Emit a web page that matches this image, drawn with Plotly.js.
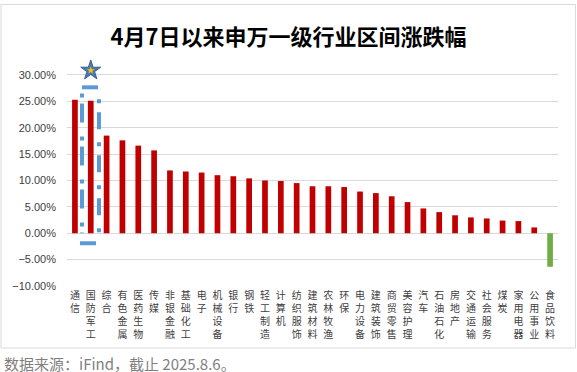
<!DOCTYPE html>
<html><head><meta charset="utf-8">
<script src="https://cdn.plot.ly/plotly-3.0.1.min.js"></script>
<style>html,body{margin:0;padding:0;background:#fff;}#chart{width:577px;height:372px;}</style>
</head><body><div id="chart"></div>
<script>
const categories = ["通信","国防军工","综合","有色金属","医药生物","传媒","非银金融","基础化工","电子","机械设备","银行","钢铁","轻工制造","计算机","纺织服饰","建筑材料","农林牧渔","环保","电力设备","建筑装饰","商贸零售","美容护理","汽车","石油石化","房地产","交通运输","社会服务","煤炭","家用电器","公用事业","食品饮料"];
const changePct = [25.3,25.1,18.5,17.6,16.6,15.7,11.9,11.7,11.5,11.0,10.8,10.4,10.0,9.9,9.5,8.9,8.9,8.75,7.9,7.6,7.0,5.9,4.7,4.0,3.4,3.0,2.8,2.4,2.3,1.1,-6.35];
const yTicks = [-10,-5,0,5,10,15,20,25,30];
const highlight = "国防军工";

const W = 577, H = 372, L = 67, R = 19, T = 67, B = 86;
const pw = W - L - R, ph = H - T - B;
const px = v => (v - L) / pw;
const py = v => (H - B - v) / ph;

const hiIdx = categories.indexOf(highlight);

const bars = {
  type: 'bar',
  x: categories,
  y: changePct.map(v => v / 100),
  marker: {color: changePct.map(v => v >= 0 ? '#C00000' : '#70AD47')},
  hoverinfo: 'x+y'
};
const starOuter = {
  type: 'scatter', mode: 'markers', x: [highlight], y: [0.3085], cliponaxis: false,
  marker: {symbol: 'star', size: 15, color: '#4A78B0', line: {color: '#35629a', width: 1}},
  hoverinfo: 'skip'
};
const starInner = {
  type: 'scatter', mode: 'markers', x: [highlight], y: [0.3085], cliponaxis: false,
  marker: {symbol: 'star', size: 6, color: '#FFC000', line: {width: 0}},
  hoverinfo: 'skip'
};

const blue = '#5B9BD5';
const shapes = [
  {type: 'rect', xref: 'paper', yref: 'paper', x0: px(1), x1: px(575.5), y0: py(348), y1: py(4.5),
   line: {color: '#D9D9D9', width: 1}, fillcolor: 'rgba(0,0,0,0)', layer: 'below'},
  {type: 'line', xref: 'x', yref: 'y', x0: hiIdx - 0.55, x1: hiIdx + 0.46, y0: 0.2765, y1: 0.2765,
   line: {color: blue, width: 4}},
  {type: 'line', xref: 'x', yref: 'y', x0: hiIdx - 0.68, x1: hiIdx + 0.33, y0: -0.019, y1: -0.019,
   line: {color: blue, width: 4}},
  {type: 'line', xref: 'x', yref: 'y', x0: hiIdx - 0.553, x1: hiIdx - 0.553, y0: 0.265, y1: 0.0,
   line: {color: blue, width: 4, dash: '4px,6px,19px,14px'}},
  {type: 'line', xref: 'x', yref: 'y', x0: hiIdx + 0.52, x1: hiIdx + 0.52, y0: 0.254, y1: 0.0,
   line: {color: blue, width: 4, dash: '4px,9px,17px,13px'}}
];

const layout = {
  width: W, height: H,
  margin: {l: L, r: R, t: T, b: B, pad: 0},
  paper_bgcolor: '#fff', plot_bgcolor: '#fff',
  font: {family: 'Liberation Sans, "Noto Sans CJK SC", sans-serif', color: '#404040'},
  showlegend: false,
  bargap: 0.64,
  title: {text: '4月7日以来申万一级行业区间涨跌幅', font: {family: '"Noto Sans CJK SC", sans-serif', size: 22, color: '#000', weight: 'bold'},
          xref: 'container', yref: 'container', x: 0.5, xanchor: 'center', y: 1 - 37 / H, yanchor: 'middle'},
  xaxis: {
    type: 'category', range: [-0.5, categories.length - 0.5], autorange: false,
    tickvals: categories, ticktext: categories.map(c => c.split('').join('<br>')),
    tickangle: 0, showgrid: false, showline: false, ticks: '', zeroline: false,
    tickfont: {family: '"Noto Sans CJK SC", sans-serif', size: 10, color: '#404040'},
    ticklabelstandoff: 2, fixedrange: true
  },
  yaxis: {
    range: [-0.10, 0.315], autorange: false, tickvals: yTicks.map(v => v / 100), tickformat: '.2%',
    showgrid: true, gridcolor: '#D9D9D9', gridwidth: 1, zeroline: true, zerolinecolor: '#D9D9D9', zerolinewidth: 1,
    showline: false, ticks: '', tickfont: {size: 11, color: '#404040'}, ticklabelstandoff: 10, fixedrange: true
  },
  shapes: shapes,
  annotations: [
    {text: '数据来源：iFind，截止 2025.8.6。', xref: 'paper', yref: 'paper', x: px(2), y: py(363),
     xanchor: 'left', yanchor: 'middle', showarrow: false,
     font: {family: '"Noto Sans CJK SC", sans-serif', size: 15, color: '#7F7F7F'}}
  ]
};

Plotly.newPlot('chart', [bars, starOuter, starInner], layout, {displayModeBar: false, staticPlot: true});
</script></body></html>
